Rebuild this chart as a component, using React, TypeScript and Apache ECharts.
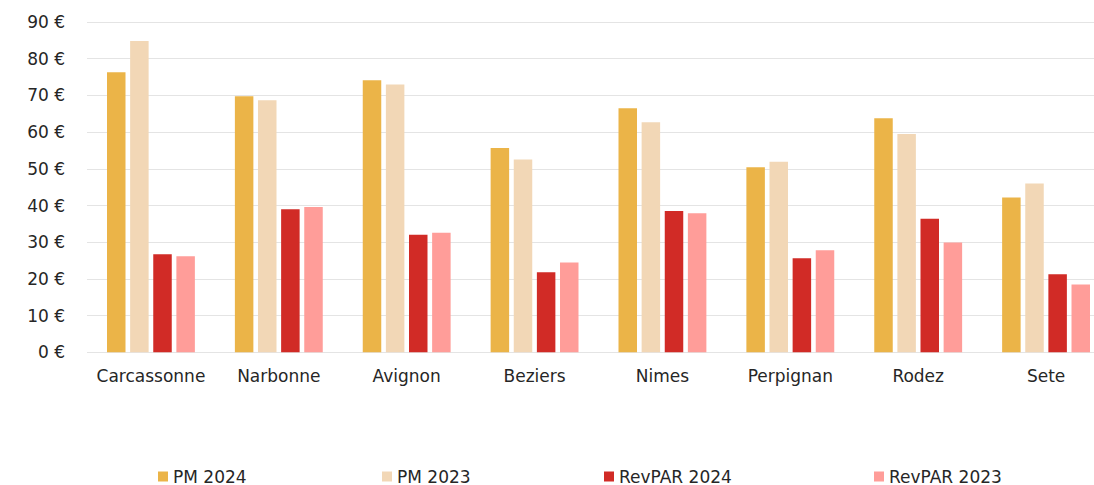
import React, { useEffect, useRef } from "react";
import * as echarts from "echarts";

const categories = ["Carcassonne", "Narbonne", "Avignon", "Beziers", "Nimes", "Perpignan", "Rodez", "Sete"];
const seriesNames = ["PM 2024", "PM 2023", "RevPAR 2024", "RevPAR 2023"];
const pm2024 = [76.3, 69.8, 74.1, 55.7, 66.5, 50.4, 63.8, 42.2];
const pm2023 = [84.8, 68.7, 73.0, 52.5, 62.7, 51.9, 59.5, 46.0];
const revpar2024 = [26.7, 39.0, 32.0, 21.8, 38.5, 25.6, 36.4, 21.3];
const revpar2023 = [26.2, 39.6, 32.6, 24.5, 37.9, 27.8, 29.9, 18.5];
const yTicks = [0, 10, 20, 30, 40, 50, 60, 70, 80, 90];

const colors = ["#EBB448", "#F2D7B6", "#D12B26", "#FF9D99"];
const legendLeft = [158, 382, 604, 874];
const FONT = "DejaVu Sans";

export default function App() {
  const ref = useRef<HTMLDivElement>(null);
  useEffect(() => {
    if (!ref.current) return;
    const chart = echarts.init(ref.current, undefined, { renderer: "svg" });
    const values = [pm2024, pm2023, revpar2024, revpar2023];
    chart.setOption({
      animation: false,
      backgroundColor: "#ffffff",
      color: colors,
      grid: { left: 87, right: 0, top: 22, bottom: 132.7, containLabel: false },
      legend: seriesNames.map((n, i) => ({
        data: [n],
        left: legendLeft[i],
        top: 468,
        padding: 0,
        itemWidth: 10,
        itemHeight: 10,
        icon: "rect",
        textStyle: { fontFamily: FONT, fontSize: 17, color: "#262626" },
      })),
      xAxis: {
        type: "category",
        data: categories,
        axisLine: { show: false },
        axisTick: { show: false },
        axisLabel: { interval: 0, margin: 15, fontFamily: FONT, fontSize: 17, color: "#262626" },
      },
      yAxis: {
        type: "value",
        min: yTicks[0],
        max: yTicks[yTicks.length - 1],
        interval: 10,
        axisLine: { show: false },
        axisTick: { show: false },
        splitLine: { lineStyle: { color: "#e4e4e4", width: 1.2 } },
        axisLabel: {
          margin: 22,
          fontFamily: FONT,
          fontSize: 17,
          color: "#262626",
          formatter: (v: number) => `${v} €`,
        },
      },
      series: seriesNames.map((n, i) => ({
        name: n,
        type: "bar",
        data: values[i],
        barWidth: 18.5,
        barGap: "25%",
        itemStyle: { color: colors[i] },
      })),
    });
    return () => chart.dispose();
  }, []);
  return (
    <div style={{ position: "absolute", left: 0, top: 0, width: 1094, height: 485, overflow: "hidden" }}>
      <div ref={ref} style={{ width: 1110, height: 485 }} />
    </div>
  );
}
